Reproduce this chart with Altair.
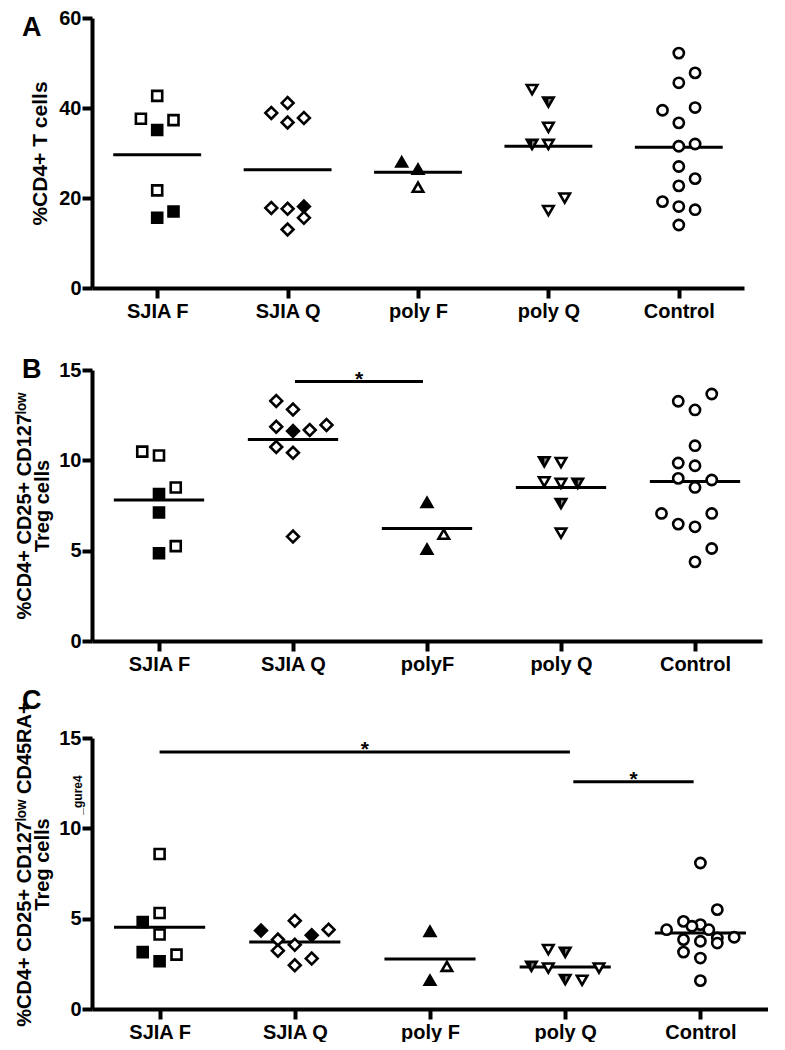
import altair as alt
import pandas as pd

FONT = "Liberation Sans"
SHAPES = ["square", "diamond", "triangle-up", "triangle-down", "circle"]
SIZES = [100, 140, 110, 110, 105]
HALF_PATH = "M0,-0.61 L0.56,-0.61 L0,0.36 Z"
JIT = 0.125
HALF = 0.337

# ---------------- Panel A ----------------
A_GROUPS = ["SJIA F", "SJIA Q", "poly F", "poly Q", "Control"]
A_VALUES = [
    [42.7, 37.6, 37.3, 35.1, 21.7, 15.6, 17.0],
    [38.9, 41.1, 36.8, 37.8, 17.8, 17.6, 18.1, 15.6, 13.0],
    [28.0, 26.4, 22.4],
    [44.1, 41.3, 35.7, 31.9, 31.9, 20.0, 17.2],
    [52.2, 47.8, 45.6, 39.5, 40.1, 36.7, 31.5, 32.0, 27.0, 24.3, 22.7, 19.2, 18.1, 17.4, 14.0],
]
A_KINDS = ["ooofoff", "oooooofoo", "ffo", "ohohooo", "ooooooooooooooo"]
A_SLOTS = [
    [0, -1, 1, 0, 0, 0, 1],
    [-1, 0, 0, 1, -1, 0, 1, 1, 0],
    [-1, 0, 0],
    [-1, 0, 0, -1, 0, 1, 0],
    [0, 1, 0, -1, 1, 0, 0, 1, 0, 1, 0, -1, 0, 1, 0],
]
A_MEANS = [29.6, 26.3, 25.7, 31.5, 31.3]
A_TICKS = [0, 20, 40, 60]

# ---------------- Panel B ----------------
B_GROUPS = ["SJIA F", "SJIA Q", "polyF", "poly Q", "Control"]
B_VALUES = [
    [10.48, 10.27, 8.50, 8.13, 7.11, 5.25, 4.86],
    [13.29, 12.82, 11.86, 11.62, 11.68, 11.96, 10.74, 10.42, 5.78],
    [7.67, 5.91, 5.08],
    [9.92, 9.88, 8.81, 8.72, 8.72, 7.61, 5.97],
    [13.67, 13.27, 12.79, 10.81, 9.85, 9.70, 9.00, 8.91, 8.50, 7.06, 7.06, 6.47, 6.32, 5.12, 4.38],
]
B_KINDS = ["oooffof", "ooofooooo", "fof", "hooohho", "ooooooooooooooo"]
B_SLOTS = [
    [-1, 0, 1, 0, 0, 1, 0],
    [-1, 0, -1, 0, 1, 2, -1, 0, 0],
    [0, 1, 0],
    [-1, 0, -1, 0, 1, 0, 0],
    [1, -1, 0, 0, -1, 0, -1, 1, 0, -2, 1, -1, 0, 1, 0],
]
B_MEANS = [7.80, 11.16, 6.23, 8.50, 8.83]
B_TICKS = [0, 5, 10, 15]
B_BAR_FROM = [1.015]
B_BAR_TO = [1.97]
B_BAR_Y = [14.36]

# ---------------- Panel C ----------------
C_GROUPS = ["SJIA F", "SJIA Q", "poly F", "poly Q", "Control"]
C_VALUES = [
    [8.58, 5.31, 4.81, 4.12, 3.15, 3.01, 2.64],
    [4.34, 4.89, 3.84, 4.08, 4.39, 3.56, 3.23, 2.79, 2.42],
    [4.30, 2.36, 1.59],
    [3.29, 3.14, 2.36, 2.27, 2.27, 1.63, 1.59],
    [8.08, 5.50, 4.85, 4.67, 4.58, 4.39, 4.39, 3.97, 3.84, 3.75, 3.93, 3.65, 3.15, 2.82, 1.57],
]
C_KINDS = ["oofofof", "foofooooo", "fof", "ohhooho", "ooooooooooooooo"]
C_SLOTS = [
    [0, 0, -1, 0, -1, 1, 0],
    [-2, 0, -1, 1, 2, 0, -1, 1, 0],
    [0, 1, 0],
    [-1, 0, -2, -1, 2, 0, 1],
    [0, 1, -1, 0, -0.5, 0.5, -2, 2, -1, 0, 1, 1, -1, 0, 0],
]
C_MEANS = [4.52, 3.71, 2.77, 2.33, 4.21]
C_TICKS = [0, 5, 10, 15]
C_BAR_FROM = [0.0, 3.06]
C_BAR_TO = [3.035, 3.95]
C_BAR_Y = [14.22, 12.58]


def points_df(groups, values, kinds, slots):
    rows = []
    for gi, g in enumerate(groups):
        for v, k, s in zip(values[gi], kinds[gi], slots[gi]):
            rows.append({"group": g, "gi": gi, "slot": s, "value": v, "kind": k})
    return pd.DataFrame(rows)


def panel(groups, values, kinds, slots, means, ymax, yticks, ytitle, title_size,
          title_pad, width, height, letter, letter_y, bars=None, extra=None, title_y=None):
    xs = alt.Scale(domain=[-0.5, 4.5], nice=False, zero=False)
    ys = alt.Scale(domain=[0, ymax], nice=False, zero=True)
    label_expr = "[" + ",".join("'%s'" % g for g in groups) + "][datum.value]"
    xaxis = alt.Axis(
        values=[0, 1, 2, 3, 4], labelExpr=label_expr, title=None, grid=False,
        tickSize=10, tickWidth=4, tickColor="black", domainWidth=4, domainColor="black",
        labelFont=FONT, labelFontSize=20, labelFontWeight="bold", labelColor="black",
        labelPadding=3, labelFlush=False, labelOverlap=False,
    )
    yargs = dict(
        values=yticks, title=ytitle, grid=False, tickSize=10, tickWidth=4,
        tickColor="black", domainWidth=4, domainColor="black",
        labelFont=FONT, labelFontSize=20, labelFontWeight="bold", labelColor="black",
        labelPadding=1, labelFlush=False, labelOverlap=False,
        titleFont=FONT, titleFontSize=title_size, titleFontWeight="bold",
        titleColor="black", titlePadding=title_pad, titleLineHeight=18,
    )
    if title_y is not None:
        yargs["titleY"] = title_y
    yaxis = alt.Axis(**yargs)

    pts = points_df(groups, values, kinds, slots)
    shapes_js = "[" + ",".join("'%s'" % s for s in SHAPES) + "]"
    sizes_js = "[" + ",".join(str(s) for s in SIZES) + "]"

    mdf = pd.DataFrame({"gi": list(range(len(groups))), "mean": means})
    rules = alt.Chart(mdf).transform_calculate(
        x1="datum.gi - %f" % HALF, x2="datum.gi + %f" % HALF
    ).mark_rule(color="black", strokeWidth=3).encode(
        x=alt.X("x1:Q", scale=xs, axis=xaxis),
        x2="x2:Q",
        y=alt.Y("mean:Q", scale=ys, axis=yaxis),
    )

    base_pts = alt.Chart(pts).transform_calculate(
        pos="datum.gi + datum.slot * %f" % JIT,
        shp=shapes_js + "[datum.gi]",
        sz=sizes_js + "[datum.gi]",
        fillc="datum.kind == 'o' ? 'white' : 'black'",
    )
    marks = base_pts.mark_point(
        filled=True, stroke="black", strokeWidth=2.6, opacity=1, fillOpacity=1, strokeOpacity=1
    ).encode(
        x=alt.X("pos:Q", scale=xs, axis=xaxis),
        y=alt.Y("value:Q", scale=ys, axis=yaxis),
        shape=alt.Shape("shp:N", scale=None),
        size=alt.Size("sz:Q", scale=None),
        fill=alt.Fill("fillc:N", scale=None),
    )
    halfs = base_pts.transform_filter("datum.kind == 'h'").mark_point(
        shape=HALF_PATH, filled=True, fill="#8c8c8c", strokeWidth=0, opacity=1,
        fillOpacity=1, size=SIZES[3]
    ).encode(
        x=alt.X("pos:Q", scale=xs, axis=xaxis),
        y=alt.Y("value:Q", scale=ys, axis=yaxis),
    )

    layers = [rules, marks, halfs]

    if bars is not None:
        bdf = pd.DataFrame({"a": bars[0], "b": bars[1], "y": bars[2]})
        bar_rules = alt.Chart(bdf).mark_rule(color="black", strokeWidth=3).encode(
            x=alt.X("a:Q", scale=xs, axis=xaxis), x2="b:Q",
            y=alt.Y("y:Q", scale=ys, axis=yaxis),
        )
        stars = alt.Chart(bdf).transform_calculate(m="(datum.a + datum.b) / 2").mark_text(
            text="*", font=FONT, fontSize=21, fontWeight="bold", color="black",
            baseline="alphabetic", dy=4,
        ).encode(
            x=alt.X("m:Q", scale=xs, axis=xaxis),
            y=alt.Y("y:Q", scale=ys, axis=yaxis),
        )
        layers += [bar_rules, stars]

    ldf = pd.DataFrame({"t": [letter]})
    letter_mark = alt.Chart(ldf).mark_text(
        font=FONT, fontSize=27, fontWeight="bold", color="black",
        align="left", baseline="alphabetic",
    ).encode(x=alt.value(-70), y=alt.value(letter_y), text="t:N")
    layers.append(letter_mark)

    if extra is not None:
        edf = pd.DataFrame({"t": [extra]})
        layers.append(alt.Chart(edf).mark_text(
            font=FONT, fontSize=12, fontWeight="bold", color="black", angle=270,
            align="center", baseline="middle",
        ).encode(x=alt.value(-14), y=alt.value(57), text="t:N"))

    return alt.layer(*layers).properties(width=width, height=height)


LOW = "\u02e1\u1d52\u02b7"

pA = panel(A_GROUPS, A_VALUES, A_KINDS, A_SLOTS, A_MEANS, 60, A_TICKS,
           "%CD4+ T cells", 21, 8, 652, 270, "A", 18)
pB = panel(B_GROUPS, B_VALUES, B_KINDS, B_SLOTS, B_MEANS, 15, B_TICKS,
           ["%CD4+ CD25+ CD127" + LOW, "Treg cells"], 20, 6, 670, 271, "B", 8,
           bars=(B_BAR_FROM, B_BAR_TO, B_BAR_Y))
pC = panel(C_GROUPS, C_VALUES, C_KINDS, C_SLOTS, C_MEANS, 15, C_TICKS,
           ["%CD4+ CD25+ CD127" + LOW + " CD45RA+", "Treg cells\u2003\u2003\u2002"], 20, 6,
           676, 271, "C", -29, bars=(C_BAR_FROM, C_BAR_TO, C_BAR_Y), extra="_gure4",
           title_y=126)

top = alt.vconcat(pA, pB, spacing=35)
chart = alt.vconcat(top, pC, spacing=13).properties(
    padding={"left": 6, "top": 0, "right": 0, "bottom": 0}
).configure(font=FONT).configure_view(strokeWidth=0, stroke="transparent")

chart.save("out.html", embed_options={"renderer": "svg", "actions": False})
